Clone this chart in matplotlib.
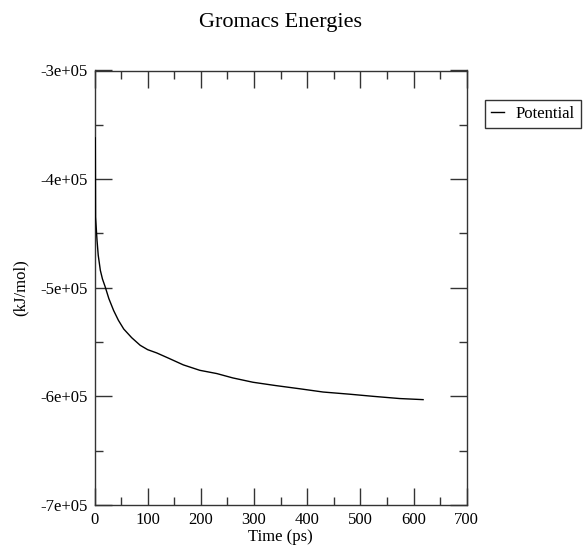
import numpy as np
import matplotlib
matplotlib.use('Agg')
import matplotlib.pyplot as plt
from matplotlib.ticker import MultipleLocator, FuncFormatter

# potential energy
time_ps = [1.5, 2, 4.7, 7, 11, 15, 20, 27, 36, 45, 55, 70, 86, 100, 117, 140, 167,
           198, 230, 260, 298, 340, 386, 430, 480, 525, 574, 618]
potential = [-3.62e5, -4.35e5, -4.56e5, -4.70e5, -4.84e5, -4.92e5, -4.99e5, -5.10e5,
             -5.21e5, -5.30e5, -5.38e5, -5.46e5, -5.53e5, -5.57e5, -5.60e5, -5.65e5,
             -5.71e5, -5.76e5, -5.79e5, -5.83e5, -5.87e5, -5.90e5, -5.93e5, -5.96e5,
             -5.98e5, -6.00e5, -6.02e5, -6.03e5]

plt.rcParams['font.family'] = ['Liberation Serif', 'DejaVu Serif']

fig = plt.figure(figsize=(5.84, 5.47), dpi=100)
W, H = 584.0, 547.0
ax = fig.add_axes([94.5 / W, 1 - 505 / H, (466.7 - 94.5) / W, (505 - 70.5) / H])

ax.plot(time_ps, potential, color='black', lw=1.0, label='Potential', zorder=3)

ax.set_xlim(0, 700)
ax.set_ylim(-7e5, -3e5)
ax.xaxis.set_major_locator(MultipleLocator(100))
ax.xaxis.set_minor_locator(MultipleLocator(50))
ax.yaxis.set_major_locator(MultipleLocator(1e5))
ax.yaxis.set_minor_locator(MultipleLocator(5e4))
ax.yaxis.set_major_formatter(FuncFormatter(lambda v, p: '%.0e' % v))

ax.tick_params(which='both', direction='in', top=True, right=True,
               labelsize=12, width=1.0, color='#333333')
ax.tick_params(which='major', length=12, pad=5)
ax.tick_params(which='minor', length=6)
for s in ax.spines.values():
  s.set_linewidth(1.0)
  s.set_color('#333333')

ax.set_xlabel('Time (ps)', fontsize=12, labelpad=1)
ax.set_ylabel('(kJ/mol)', fontsize=12, labelpad=8)
fig.text(280.6 / W, 1 - 22 / H, 'Gromacs Energies', ha='center', va='center', fontsize=16)

leg = ax.legend(loc='upper left', bbox_to_anchor=(485 / W, 1 - 100 / H),
                bbox_transform=fig.transFigure, fontsize=12, frameon=True,
                fancybox=False, handlelength=0.8, handletextpad=0.7,
                borderpad=0.35, borderaxespad=0)
leg.get_frame().set_edgecolor('black')
leg.get_frame().set_linewidth(1.0)

fig.savefig('out.png', dpi=100)
plt.close()
